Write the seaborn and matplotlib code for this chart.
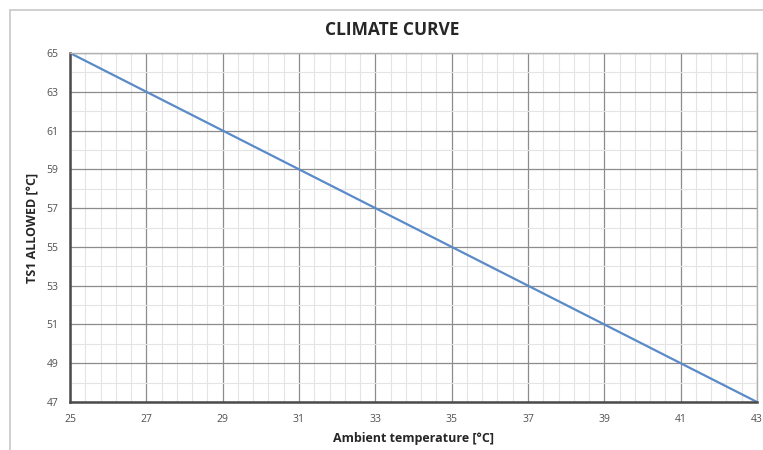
import numpy as np
import pandas as pd
from matplotlib import pyplot as plt
import matplotlib.ticker as ticker
from matplotlib.lines import Line2D
import seaborn as sns

# DATA
ambient = [25, 27, 29, 31, 33, 35, 37, 39, 41, 43]
ts1_allowed = [65, 63, 61, 59, 57, 55, 53, 51, 49, 47]

df = pd.DataFrame({'ambient': ambient, 'ts1': ts1_allowed})

sns.set_style('white')
plt.rcParams['font.family'] = ['Open Sans', 'DejaVu Sans']

fig = plt.figure(figsize=(7.63, 4.5), dpi=100)
ax = fig.add_axes([70/763, 1 - 402/450, (757 - 70)/763, (402 - 53)/450])

# chart frame (top and left edges only visible)
fig.add_artist(Line2D([10/763, 10/763], [0, 1 - 10/450], color='#c8c8c8', lw=1.2,
                      transform=fig.transFigure))
fig.add_artist(Line2D([10/763, 1], [1 - 10/450, 1 - 10/450], color='#c8c8c8', lw=1.2,
                      transform=fig.transFigure))

sns.lineplot(data=df, x='ambient', y='ts1', ax=ax, color='#5a8ac8', linewidth=1.6)

ax.set_xlim(min(ambient), max(ambient))
ax.set_ylim(min(ts1_allowed), max(ts1_allowed))
ax.xaxis.set_major_locator(ticker.FixedLocator(ambient))
ax.xaxis.set_minor_locator(ticker.AutoMinorLocator(5))
ax.yaxis.set_major_locator(ticker.FixedLocator(ts1_allowed))
ax.yaxis.set_minor_locator(ticker.AutoMinorLocator(2))

ax.grid(which='major', color='#8c8c8c', linewidth=0.9)
ax.grid(which='minor', color='#e4e4e4', linewidth=0.8)
ax.set_axisbelow(True)

for side in ['top', 'right']:
    ax.spines[side].set_color('#b0b0b0')
    ax.spines[side].set_linewidth(1.0)
for side in ['left', 'bottom']:
    ax.spines[side].set_color('#4a4a4a')
    ax.spines[side].set_linewidth(1.8)

ax.tick_params(which='major', direction='inout', length=5, width=1.2, color='#4a4a4a',
               labelsize=7.5, labelcolor='#505050')
ax.tick_params(which='minor', length=0)
ax.tick_params(axis='x', pad=6)
ax.tick_params(axis='y', pad=6)

ax.set_xlabel('Ambient temperature [°C]', fontsize=9, fontweight='bold', labelpad=5)
ax.set_ylabel('TS1 ALLOWED [°C]', fontsize=9, fontweight='bold', labelpad=5)
fig.text(392/763, 1 - 30/450, 'CLIMATE CURVE', fontsize=12.5, fontweight='bold',
         ha='center', va='center')

fig.savefig('out.png', dpi=100)
plt.close()
